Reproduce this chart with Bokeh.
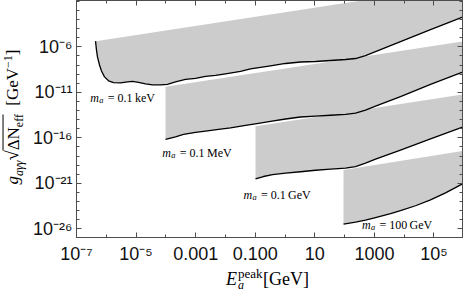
from bokeh.plotting import figure
from bokeh.models import Range1d, LogAxis, FixedTicker, Label, Div
from bokeh.layouts import row, column
from bokeh.embed import file_html
from bokeh.resources import INLINE

# ---------------- data ----------------
# lower boundary curves (black lines)
kev_E = [4.345e-7, 4.69e-7, 5.07e-7, 5.92e-7, 6.90e-7, 8.71e-7, 1.186e-6, 1.746e-6, 3.00e-6,
         5.15e-6, 7.59e-6, 1.205e-5, 2.07e-5, 3.56e-5, 6.61e-5, 1.135e-4, 2.10e-4, 4.56e-4,
         9.89e-4, 2.14e-3, 4.63e-3, 1.005e-2, 3.20e-2, 6.93e-2, 0.150, 0.325, 1.04, 3.30,
         10.5, 33.6, 107, 232, 502, 1089, 7516, 7.64e4, 9.06e5]
kev_g = [4.178e-6, 4.38e-7, 7.55e-8, 1.016e-8, 2.25e-9, 5.00e-10, 1.837e-10, 1.17e-10, 1.11e-10,
         1.43e-10, 1.62e-10, 1.26e-10, 8.65e-11, 6.73e-11, 6.73e-11, 7.62e-11, 1.43e-10, 2.67e-10,
         3.44e-10, 5.68e-10, 7.29e-10, 1.06e-9, 1.99e-9, 3.72e-9, 5.42e-9, 7.91e-9, 1.48e-8, 2.15e-8,
         2.44e-8, 3.14e-8, 4.04e-8, 5.19e-8, 1.10e-7, 3.00e-7, 3.68e-6, 7.67e-5, 1.85e-3]

mev_E = [9.73e-5, 2.10e-4, 3.91e-4, 9.89e-4, 2.14e-3, 5.85e-3, 1.476e-2, 4.71e-2, 0.1285, 0.325,
         1.04, 3.30, 10.5, 33.6, 107, 232, 502, 1089, 7516, 7.64e4, 9.06e5]
mev_g = [6.87e-17, 1.285e-16, 2.40e-16, 3.97e-16, 5.51e-16, 8.43e-16, 1.227e-15, 2.30e-15, 3.79e-15,
         6.27e-15, 1.175e-14, 1.94e-14, 2.49e-14, 3.05e-14, 3.82e-14, 5.28e-14, 1.12e-13, 3.06e-13,
         3.32e-12, 7.62e-11, 1.63e-9]

gev_E = [0.1021, 0.189, 0.379, 1.04, 3.30, 10.5, 33.6, 107, 232, 502, 1089, 7516, 7.64e4, 9.06e5]
gev_g = [3.01e-21, 5.64e-21, 9.31e-21, 1.36e-20, 1.88e-20, 2.74e-20, 3.71e-20, 4.76e-20, 6.93e-20,
         1.667e-19, 4.55e-19, 4.35e-18, 7.78e-17, 1.50e-15]

hgev_E = [91.8, 232, 502, 1089, 3475, 7516, 2.40e4, 7.64e4, 2.44e5, 9.06e5]
hgev_g = [3.33e-26, 5.51e-26, 9.10e-26, 1.70e-25, 4.65e-25, 9.84e-25, 3.45e-24, 1.55e-23,
          8.99e-23, 8.61e-22]

# upper straight edges of the gray bands
kev_top_E = [4.345e-7, 9.06e5]
kev_top_g = [4.178e-6, 6.0]
mev_top_E = [9.73e-5, 9.06e5]
mev_top_g = [4.07e-11, 3.94e-6]
gev_top_E = [0.1021, 9.06e5]
gev_top_g = [1.93e-15, 5.74e-12]
hgev_top_E = [91.8, 9.06e5]
hgev_top_g = [2.88e-20, 3.55e-18]

band_labels = ["0.1 keV", "0.1 MeV", "0.1 GeV", "100 GeV"]

x_major = [1e-7, 1e-5, 1e-3, 1e-1, 10, 1e3, 1e5]
x_major_text = ["10\u207b\u2077", "10\u207b\u2075", "0.001", "0.100", "10", "1000", "10\u2075"]
x_minor = [1e-7, 1e-6, 1e-5, 1e-4, 1e-3, 1e-2, 1e-1, 1, 10, 100, 1e3, 1e4, 1e5, 1e6]
y_major = [1e-26, 1e-21, 1e-16, 1e-11, 1e-6]
y_major_text = ["10\u207b\u00b2\u2076", "10\u207b\u00b2\u00b9", "10\u207b\u00b9\u2076",
                "10\u207b\u00b9\u00b9", "10\u207b\u2076"]
y_minor = [10.0 ** k for k in range(-27, 0)]

# ---------------- figure ----------------
FRAME = "#4d4d4d"
GRAY = "#cccccc"
SERIF = "Liberation Serif"
SANS = "Liberation Sans"

YT_W = 30          # width of the y-title column
FIG_H = 266        # figure height; x title goes below

p = figure(width=463 - YT_W, height=FIG_H, x_axis_type="log", y_axis_type="log",
           x_range=Range1d(1e-7, 10 ** 5.957), y_range=Range1d(10 ** -26.95, 10 ** -0.91),
           output_backend="svg", toolbar_location=None,
           min_border_left=76 - YT_W, min_border_right=1, min_border_top=0,
           min_border_bottom=FIG_H - 239)
p.grid.visible = False
p.outline_line_color = FRAME
p.background_fill_color = "white"
p.border_fill_color = "white"

bands = [
    (kev_top_E, kev_top_g, kev_E, kev_g),
    (mev_top_E, mev_top_g, mev_E, mev_g),
    (gev_top_E, gev_top_g, gev_E, gev_g),
    (hgev_top_E, hgev_top_g, hgev_E, hgev_g),
]
for tE, tg, cE, cg in bands:
    p.patch(x=list(tE) + list(cE)[::-1], y=list(tg) + list(cg)[::-1],
            fill_color=GRAY, line_color=None)
for tE, tg, cE, cg in bands:
    p.line(cE, cg, line_color="black", line_width=1.3, line_join="round")


def style_axis(ax, major, minor, texts=None):
    ax.ticker = FixedTicker(ticks=major, minor_ticks=minor)
    ax.axis_line_color = FRAME
    ax.axis_line_width = 1
    ax.major_tick_line_color = FRAME
    ax.minor_tick_line_color = FRAME
    ax.major_tick_in = 5
    ax.major_tick_out = 0
    ax.minor_tick_in = 3
    ax.minor_tick_out = 0
    if texts is None:
        ax.major_label_overrides = {v: " " for v in major}
        ax.major_label_text_font_size = "1px"
        ax.major_label_text_alpha = 0
        ax.major_label_standoff = 0
    else:
        ax.major_label_overrides = {v: t for v, t in zip(major, texts)}
        ax.major_label_text_font = SANS
        ax.major_label_text_font_size = "18px"
        ax.major_label_text_color = "#111111"


style_axis(p.xaxis[0], x_major, x_minor, x_major_text)
p.xaxis[0].major_label_standoff = 6
style_axis(p.yaxis[0], y_major, y_minor, y_major_text)
p.yaxis[0].major_label_standoff = 4

top_ax = LogAxis()
style_axis(top_ax, x_major, x_minor)
p.add_layout(top_ax, "above")
right_ax = LogAxis()
style_axis(right_ax, y_major, y_minor)
p.add_layout(right_ax, "right")

# ---------------- band annotations ----------------
label_pos = [(2.9e-7, 2.6e-12), (7.6e-5, 2.05e-18), (0.040, 5.4e-23), (380, 2.9e-26)]
FS = 12
for (lx, ly), txt in zip(label_pos, band_labels):
    p.add_layout(Label(x=lx, y=ly, text="m", text_font=SERIF, text_font_style="italic",
                       text_font_size=f"{FS}px", text_baseline="alphabetic", text_color="black"))
    p.add_layout(Label(x=lx, y=ly, x_offset=0.75 * FS, y_offset=-2.5, text="a", text_font=SERIF,
                       text_font_style="italic", text_font_size=f"{FS * 0.7:.1f}px",
                       text_baseline="alphabetic", text_color="black"))
    p.add_layout(Label(x=lx, y=ly, x_offset=0.75 * FS + 5.5,
                       text="\u00a0=\u00a0" + txt.replace(" ", "\u2009"),
                       text_font=SERIF, text_font_size=f"{FS}px", text_baseline="alphabetic",
                       text_color="black"))

# ---------------- axis titles (HTML, real text) ----------------
ytitle = Div(width=YT_W, height=FIG_H, margin=(0, 0, 0, 0), text=(
    f'<div style="position:relative;width:{YT_W}px;height:{FIG_H}px;">'
    '<div style="position:absolute;left:14px;top:117px;transform:translate(-50%,-50%) rotate(-90deg);'
    "white-space:nowrap;font-family:'Liberation Serif';font-size:17px;line-height:1;color:#000;\">"
    '<i>g</i><sub style="font-size:0.7em"><i>a\u03b3\u03b3</i></sub>'
    '<span style="font-size:1.1em">\u221a</span>'
    '<span style="border-top:1px solid #000;">\u0394N<sub style="font-size:0.7em">eff</sub></span>'
    '&nbsp;&nbsp;[GeV<sup style="font-size:0.7em">\u22121</sup>]'
    '</div></div>'))

XT_H = 291 - FIG_H
xtitle = Div(width=463, height=XT_H, margin=(0, 0, 0, 0), text=(
    f"<div style=\"position:relative;width:463px;height:{XT_H}px;font-family:'Liberation Serif';"
    'color:#000;">'
    '<span style="position:absolute;left:226px;top:4px;font-size:18px;line-height:1;'
    'font-style:italic;">E</span>'
    '<span style="position:absolute;left:238px;top:2px;font-size:13px;line-height:0.85;">peak</span>'
    '<span style="position:absolute;left:238px;top:14px;font-size:12px;line-height:0.85;'
    'font-style:italic;">a</span>'
    '<span style="position:absolute;left:263px;top:4px;font-size:18px;line-height:1;">[GeV]</span>'
    '</div>'))

layout = column(row(ytitle, p, spacing=0), xtitle, spacing=0)

open("out.html", "w").write(file_html(layout, INLINE))
